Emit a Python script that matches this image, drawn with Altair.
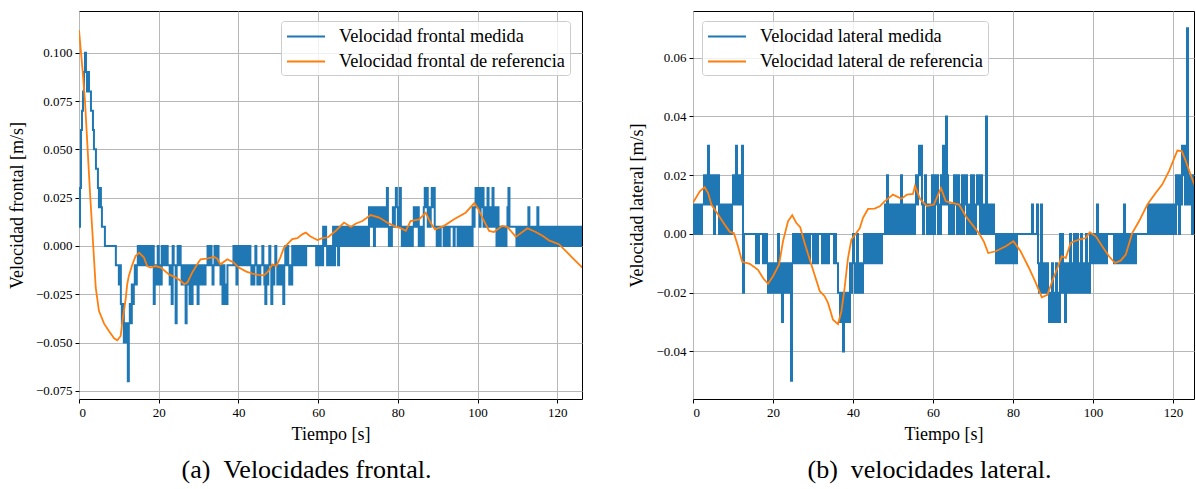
import altair as alt
import pandas as pd

FONT = "Liberation Serif"
BLUE = "#1f77b4"
ORANGE = "#ff7f0e"

# sampling step (s) of the measured series; values are in units of 0.01 m/s
DT = 0.25

FRONTAL_MEDIDA = [
    1, 3, 6, 7, 8, 9, 10, 9, 8, 9, 8, 8, 7, 7, 6, 5, 5, 4, 4, 3, 2, 3, 2, 1, 1, 1, 0, 0, 0, 0, 0, 0, 0, 0, 0, 0, 0, -1, -1, -1,
    -2, -1, -3, -4, -3, -5, -4, -5, -4, -7, -4, -3, -4, -2, -3, -2, -1, -2, -1, 0, -1, 0, 0, -1, 0, -1, 0, 0, -1, 0, -1, 0, -1, -1, 0, -3, -1, -2, -1, 0,
    -2, -1, -2, 0, -1, 0, -1, -1, 0, -1, -1, -2, -1, -3, 0, -1, -1, -4, -1, 0, -1, 0, -1, -2, -1, -2, -1, -4, -2, -1, -2, -3, -1, -3, -2, -1, -2, -1, -2, -3,
    -1, -2, -1, -2, -1, -1, -2, -1, -1, 0, -1, -1, 0, -1, -2, -1, 0, -1, -1, 0, -1, -1, -2, -1, -3, -1, -3, -2, -3, -1, -1, -1, -1, -1, -1, 0, -1, 0, -2, -1,
    0, -1, 0, -1, 0, -1, -1, 0, -1, 0, -1, 0, -1, -2, -1, -2, -1, 0, -1, -2, -1, -2, -1, -1, 0, -1, -2, -3, -1, -2, -1, 0, -1, -3, -1, -2, -1, 0, -1, -2,
    -1, -2, -1, -2, -1, -3, -1, 0, -1, 0, -1, -2, -1, -2, 0, -1, 0, -1, 0, 0, -1, 0, -1, 0, 0, -1, 0, -1, 0, 0, 0, 0, 0, 0, 0, 0, 0, 0, -1, 0,
    -1, 0, -1, 0, -1, 1, 0, 1, 0, -1, 0, -1, 0, -1, 0, 1, -1, 1, 0, 1, -1, 1, 0, 1, 0, 1, 0, 1, 1, 0, 1, 0, 1, 0, 1, 0, 1, 0, 1, 1,
    0, 1, 0, 1, 0, 1, 0, 1, 0, 1, 0, 2, 1, 2, 1, 2, 0, 2, 1, 2, 1, 2, 1, 1, 2, 1, 1, 2, 1, 3, 1, 0, 1, 0, 1, 2, 1, 2, 3, 2,
    1, 2, 3, 1, 0, 1, 0, 1, 0, 1, 0, 1, 0, 1, 0, 1, 2, 1, 2, 1, 2, 0, 1, 0, 1, 0, 2, 3, 2, 3, 1, 2, 1, 2, 3, 2, 3, 1, 1, 0,
    1, 1, 0, 1, 1, 1, 0, 1, 1, 0, 1, 0, 1, 1, 1, 1, 0, 1, 1, 1, 0, 1, 0, 1, 0, 1, 1, 0, 1, 0, 1, 0, 1, 1, 0, 2, 1, 2, 3, 2,
    3, 2, 1, 3, 2, 3, 1, 2, 2, 1, 3, 1, 2, 1, 2, 3, 1, 2, 1, 0, 2, 1, 0, 1, 0, 1, 0, 1, 0, 1, 2, 3, 1, 1, 1, 1, 1, 1, 1, 0,
    1, 0, 1, 0, 1, 0, 1, 0, 1, 0, 1, 2, 0, 1, 0, 1, 0, 1, 0, 1, 2, 0, 1, 0, 1, 0, 1, 0, 1, 0, 1, 0, 1, 0, 1, 0, 1, 0, 1, 0,
    1, 0, 1, 0, 1, 0, 1, 0, 1, 0, 1, 0, 1, 0, 1, 0, 1, 0, 1, 0, 1, 0, 1, 0, 1, 0,
]

LATERAL_MEDIDA = [
    0, 1, 0, 1, 0, 1, 0, 1, 0, 1, 1, 2, 1, 2, 1, 3, 2, 1, 2, 1, 2, 0, 1, 2, 1, 2, 0, 1, 0, 1, 1, 0, 1, 0, 1, 1, 0, 1, 0, 1,
    2, 1, 2, 3, 1, 2, 1, 2, 1, 3, -2, 0, 0, 0, 0, 0, 0, 0, 0, 0, 0, 0, 0, -1, 0, -1, 0, 0, 0, 0, -1, 0, -1, 0, -1, -2, -1, -2, -1, -2,
    -1, -2, -1, -2, -1, 0, -2, -1, -2, -3, -1, -2, -1, -2, -1, -2, -1, -2, -5, -1, 0, -1, 0, -1, 0, -1, 0, -1, 0, -1, 0, 0, -1, 0, -1, 0, -1, 0, 0, 0,
    -1, 0, -1, 0, -1, 0, 0, 0, 0, -1, 0, -1, 0, -1, 0, -1, 0, 0, 0, 0, 0, -1, 0, -1, -1, -2, -2, -3, -2, -3, -4, -2, -3, -2, -3, -2, -3, -1, -2, -1,
    0, -1, -2, -1, 0, -2, -1, -2, -1, -2, -1, 0, -1, 0, -1, 0, -1, 0, -1, 0, -1, 0, -1, 0, -1, 0, -1, 0, -1, 0, 0, 0, 1, 0, 2, 0, 1, 0, 1, 0,
    1, 0, 1, 0, 1, 0, 1, 0, 2, 0, 1, 0, 1, 0, 1, 0, 1, 0, 1, 0, 1, 0, 1, 2, 1, 2, 3, 2, 3, 1, 0, 1, 2, 1, 0, 1, 0, 1, 0, 2,
    1, 0, 2, 1, 2, 0, 1, 0, 2, 1, 3, 2, 1, 4, 2, 1, 0, 1, 0, 1, 0, 2, 1, 2, 0, 2, 1, 0, 1, 2, 0, 2, 1, 2, 0, 1, 0, 1, 2, 0,
    2, 1, 0, 1, 2, 1, 2, 0, 2, 1, 0, 1, 0, 4, 1, 0, 1, 0, 1, 0, 1, 0, 0, -1, 0, -1, 0, -1, 0, -1, 0, -1, 0, -1, 0, -1, 0, -1, 0, -1,
    0, -1, 0, -1, 0, 0, 0, 0, 0, 0, 0, 0, 0, 0, 0, 0, 0, 0, 0, 1, 0, 0, 0, 0, 1, -1, -2, -1, 1, -2, -1, -2, -1, -2, -1, -2, -3, -2, -3, -1,
    -3, -2, -3, -1, -3, -2, -3, 0, -2, 0, -1, -2, -3, -1, -2, -1, -2, 0, -1, -2, -1, 0, -2, -1, 0, -2, -1, -2, 0, -1, -2, -1, -2, 0, -2, -1, -2, 0, -1, 0,
    -1, 0, -1, 0, 1, -1, 0, -1, 0, -1, 0, -1, 0, -1, 0, 0, 0, 0, 0, 0, 0, -1, 0, -1, 0, -1, 0, -1, 0, -1, 0, 1, -1, 0, -1, 0, -1, 0, -1, 0,
    -1, 0, -1, 0, 0, 0, 0, 0, 0, 0, 0, 0, 0, 0, 0, 1, 0, 1, 0, 1, 0, 1, 0, 1, 0, 1, 0, 1, 0, 1, 0, 1, 0, 1, 0, 1, 0, 1, 0, 1,
    0, 1, 0, 2, 1, 2, 0, 2, 1, 3, 2, 3, 1, 2, 7, 1, 2, 1, 2, 0, 2, 1, 2,
]

# reference velocities: (time s, velocity m/s)
FRONTAL_REF = [
    (0, 0.1117), (0.84, 0.0923), (1.5, 0.075), (2.1, 0.0526), (2.76, 0.0276), (3.5, 0.0026),
    (4.2, -0.0216), (5.0, -0.0336), (6.3, -0.0402), (7.5, -0.044), (8.8, -0.0478), (9.6, -0.0488),
    (10.45, -0.0466), (10.9, -0.0388), (11.7, -0.0276), (12.1, -0.0198), (12.5, -0.0155), (13.4, -0.0095),
    (14.2, -0.0052), (15.1, -0.0035), (16.3, -0.006), (17.1, -0.0104), (18.0, -0.0112), (19.2, -0.0104),
    (20.5, -0.0112), (22.6, -0.0147), (24.3, -0.0164), (25.5, -0.018), (26.4, -0.0198), (27.2, -0.019),
    (28.4, -0.0138), (29.5, -0.010), (30.5, -0.0069), (32.0, -0.0065), (33.9, -0.0057), (34.6, -0.0065),
    (35.5, -0.0095), (37.2, -0.0069), (38.8, -0.0085), (40.1, -0.0112), (42.0, -0.0133), (43.5, -0.0143),
    (45.0, -0.015), (46.4, -0.0152), (47.5, -0.013), (48.5, -0.0095), (49.5, -0.0104), (50.5, -0.006),
    (51.4, -0.001), (52.3, 0.001), (53.5, 0.0035), (54.8, 0.004), (56.0, 0.006), (56.9, 0.0069),
    (58.0, 0.005), (59.8, 0.0031), (61.0, 0.004), (62.5, 0.0045), (64.5, 0.008), (66.5, 0.0121),
    (68.2, 0.0098), (69.4, 0.0115), (71.1, 0.0129), (73.2, 0.016), (75.3, 0.0147), (77.3, 0.0121),
    (79.0, 0.0104), (80.7, 0.0092), (82.0, 0.0078), (83.2, 0.0129), (85.3, 0.0138), (87.0, 0.0172),
    (88.2, 0.012), (89.3, 0.0086), (91.6, 0.0104), (94.1, 0.0138), (97.0, 0.0172), (99.2, 0.0222),
    (100.2, 0.019), (101.2, 0.0147), (102.9, 0.0078), (104.1, 0.0072), (106.2, 0.0104), (107.5, 0.0098),
    (109.6, 0.0047), (112.5, 0.0092), (114.6, 0.0072), (116.5, 0.005), (117.9, 0.0029), (120.4, 0.0009),
    (122.1, -0.0026), (124.2, -0.0069), (126.3, -0.0112),
]

LATERAL_REF = [
    (0, 0.0106), (1.7, 0.0145), (2.9, 0.0159), (3.75, 0.014), (4.6, 0.010), (6.25, 0.0066),
    (7.9, 0.0032), (9.2, 0.0007), (10.2, 0.0003), (11.25, -0.0042), (12.3, -0.0095), (14.2, -0.0102),
    (16.25, -0.0122), (17.5, -0.015), (18.75, -0.017), (20.0, -0.0144), (21.5, -0.0105), (22.5, -0.0025),
    (23.75, 0.0043), (24.8, 0.0064), (25.8, 0.0038), (26.8, 0.0023), (27.9, -0.0031), (29.6, -0.0105),
    (31.7, -0.0195), (32.9, -0.0212), (33.75, -0.0235), (35.0, -0.0292), (36.25, -0.0307), (37.1, -0.0264),
    (37.9, -0.0184), (38.75, -0.0082), (39.6, -0.0019), (40.4, -0.0005), (41.7, 0.002), (42.5, 0.0055),
    (43.75, 0.0085), (45.4, 0.0086), (46.7, 0.0094), (47.9, 0.0111), (50.0, 0.0134), (52.1, 0.012),
    (53.5, 0.0134), (55.0, 0.0136), (55.5, 0.0163), (56.8, 0.0118), (58.5, 0.0095), (60.2, 0.0100),
    (62.0, 0.0156), (63.2, 0.0111), (64.8, 0.0106), (66.5, 0.010), (68.2, 0.006), (69.8, 0.0032),
    (71.5, 0.0002), (72.75, -0.0027), (73.8, -0.0065), (75.7, -0.0059), (77.3, -0.0048), (78.2, -0.0042),
    (80.1, -0.0025), (81.9, -0.0059), (84.0, -0.0116), (85.7, -0.0167), (87.2, -0.0216), (88.6, -0.0207),
    (89.8, -0.0161), (91.1, -0.0116), (92.2, -0.0076), (93.2, -0.0082), (94.4, -0.0031), (96.5, -0.0019),
    (98.2, -0.0014), (99.2, 0.0006), (100.7, -0.0008), (102.3, -0.0042), (104.0, -0.0076), (105.5, -0.0099),
    (106.9, -0.0091), (108.2, -0.007), (109.8, 0.0003), (111.5, 0.0043), (113.6, 0.010), (115.7, 0.014),
    (117.3, 0.0168), (119.0, 0.0214), (121.1, 0.0284), (122.2, 0.0282), (123.2, 0.0248), (124.4, 0.0202),
    (125.5, 0.0163),
]

X_TICKS = [0, 20, 40, 60, 80, 100, 120]
FRONTAL_TICKS = [-0.075, -0.05, -0.025, 0.0, 0.025, 0.05, 0.075, 0.1]
LATERAL_TICKS = [-0.04, -0.02, 0.0, 0.02, 0.04, 0.06]

AXIS_STYLE = dict(grid=True, gridColor="#b8b8b8", gridWidth=1, domain=False,
                  tickColor="black", tickSize=4, tickWidth=1,
                  labelFont=FONT, labelFontSize=13, labelColor="black", labelPadding=3,
                  titleFont=FONT, titleFontSize=18, titleFontWeight="normal", titleColor="black")


def panel(measured, ref, names, ytitle, ydomain, yticks, yfmt, xmax, width,
          legend_x, caption, caption_dx, title_x):
    df_m = pd.DataFrame({"t": [i * DT for i in range(len(measured))],
                         "v": [k / 100 for k in measured], "serie": names[0]})
    df_r = pd.DataFrame({"t": [p[0] for p in ref], "v": [p[1] for p in ref], "serie": names[1]})
    xenc = alt.X("t:Q", scale=alt.Scale(domain=[0, xmax], nice=False, zero=False),
                 axis=alt.Axis(values=X_TICKS, format="d", title="Tiempo [s]",
                               titleX=width / 2, titleY=35, titleBaseline="middle", **AXIS_STYLE))
    yenc = alt.Y("v:Q", scale=alt.Scale(domain=ydomain, nice=False, zero=False),
                 axis=alt.Axis(values=yticks, format=yfmt, title=ytitle,
                               titleX=title_x, titleBaseline="middle", **AXIS_STYLE))
    color = alt.Color("serie:N", scale=alt.Scale(domain=names, range=[BLUE, ORANGE]),
                      legend=alt.Legend(title=None, orient="none", legendX=legend_x, legendY=10,
                                        symbolType="M-1,0H3", symbolSize=361, symbolStrokeWidth=2,
                                        labelOffset=32, labelFont=FONT, labelFontSize=18.3,
                                        labelColor="black", labelLimit=400, padding=5,
                                        rowPadding=6, strokeColor="#cccccc",
                                        fillColor="rgba(255,255,255,0.8)", cornerRadius=3))
    blue = alt.Chart(df_m).mark_line(strokeWidth=2, clip=True, interpolate="step-after").encode(
        x=xenc, y=yenc, color=color)
    orange = alt.Chart(df_r).mark_line(strokeWidth=1.8, clip=True).encode(x=xenc, y=yenc, color=color)
    return alt.layer(blue, orange).properties(
        width=width, height=388,
        title=alt.TitleParams(caption, orient="bottom", anchor="middle", frame="group",
                              font=FONT, fontSize=26, fontWeight="normal", color="black",
                              offset=14, dx=caption_dx))


left = panel(FRONTAL_MEDIDA, FRONTAL_REF,
             ["Velocidad frontal medida", "Velocidad frontal de referencia"],
             "Velocidad frontal [m/s]", [-0.0792, 0.1216], FRONTAL_TICKS, ".3f",
             126.2, 503, 202, "(a)\u2002Velocidades frontal.", -24, -62)
right = panel(LATERAL_MEDIDA, LATERAL_REF,
              ["Velocidad lateral medida", "Velocidad lateral de referencia"],
              "Velocidad lateral [m/s]", [-0.0562, 0.0759], LATERAL_TICKS, ".2f",
              125.25, 501, 9, "(b)\u2002velocidades lateral.", -14, -56)

chart = alt.hconcat(left, right, spacing=111, bounds="flush").resolve_scale(
    color="independent"
).properties(
    padding={"left": 7, "top": 10, "right": 0, "bottom": 0},
    background="white",
).configure_view(
    stroke="black", strokeWidth=1
)

chart.save("out.html", embed_options={"renderer": "svg", "actions": False})
